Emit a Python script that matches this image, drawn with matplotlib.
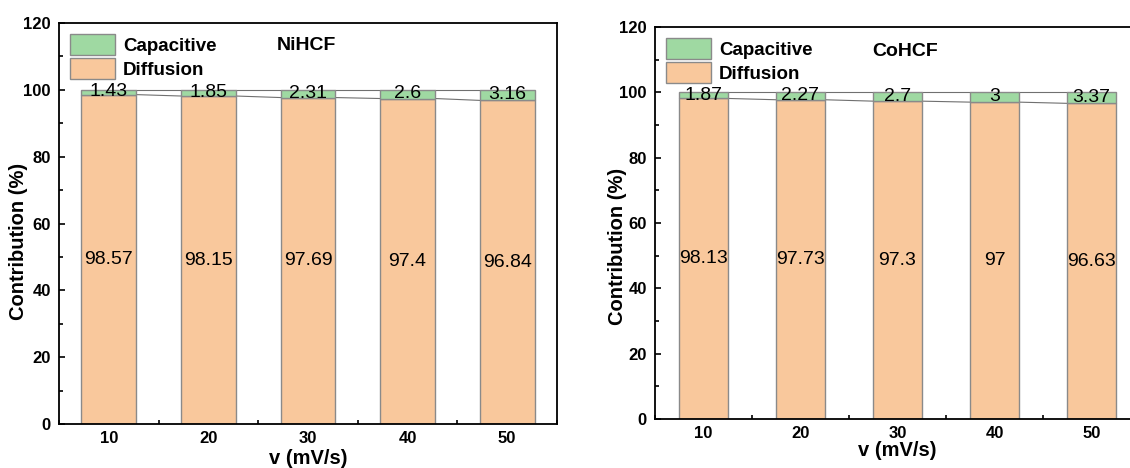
import matplotlib
matplotlib.use("Agg")
import matplotlib.pyplot as plt
from matplotlib.ticker import MultipleLocator
from matplotlib.patches import Patch

plt.rcParams['font.family'] = ['Liberation Sans', 'DejaVu Sans']

scan_rates = [10, 20, 30, 40, 50]
ni_capacitive = [1.43, 1.85, 2.31, 2.6, 3.16]
ni_diffusion = [98.57, 98.15, 97.69, 97.4, 96.84]
co_capacitive = [1.87, 2.27, 2.7, 3, 3.37]
co_diffusion = [98.13, 97.73, 97.3, 97, 96.63]

ni_cap_labels = ["1.43", "1.85", "2.31", "2.6", "3.16"]
ni_dif_labels = ["98.57", "98.15", "97.69", "97.4", "96.84"]
co_cap_labels = ["1.87", "2.27", "2.7", "3", "3.37"]
co_dif_labels = ["98.13", "97.73", "97.3", "97", "96.63"]

green = "#9fd9a2"
orange = "#f9c89c"
edge = "#8a8a8a"

W, H = 1130, 468
fig = plt.figure(figsize=(W / 100, H / 100), dpi=100)

def px_axes(x0, x1, ytop, ybot):
    return fig.add_axes([x0 / W, 1 - ybot / H, (x1 - x0) / W, (ybot - ytop) / H])

def draw(ax, cap, dif, cap_lbl, dif_lbl, title, width, tx, ty, ylab_xy, xlab_pad):
    ax.bar(scan_rates, dif, width=width, color=orange, edgecolor=edge, linewidth=1.0, zorder=2)
    ax.bar(scan_rates, cap, bottom=dif, width=width, color=green, edgecolor=edge, linewidth=1.0, zorder=2)
    # connecting lines between columns
    for i in range(len(scan_rates) - 1):
        xa = scan_rates[i] + width / 2
        xb = scan_rates[i + 1] - width / 2
        ax.plot([xa, xb], [dif[i], dif[i + 1]], color="#707070", lw=0.8, zorder=1)
        ax.plot([xa, xb], [dif[i] + cap[i], dif[i + 1] + cap[i + 1]], color="#707070", lw=0.8, zorder=1)
    for x, d, c, cl, dl in zip(scan_rates, dif, cap, cap_lbl, dif_lbl):
        ax.text(x, d + c / 2 + 0.1, cl, ha="center", va="center", fontsize=14, zorder=3)
        ax.text(x, d / 2, dl, ha="center", va="center", fontsize=14, zorder=3)
    ax.set_xlim(5, 55)
    ax.set_ylim(0, 120)
    ax.xaxis.set_major_locator(MultipleLocator(10))
    ax.xaxis.set_minor_locator(MultipleLocator(5))
    ax.yaxis.set_major_locator(MultipleLocator(20))
    ax.yaxis.set_minor_locator(MultipleLocator(10))
    ax.tick_params(which="both", direction="in", top=False, right=False, width=1.2)
    ax.tick_params(which="major", length=4, labelsize=12)
    ax.tick_params(axis="x", which="major", pad=5)
    ax.tick_params(axis="y", which="major", pad=6)
    ax.tick_params(which="minor", length=3)
    for lbl in ax.get_xticklabels() + ax.get_yticklabels():
        lbl.set_fontweight("bold")
    for s in ax.spines.values():
        s.set_linewidth(1.3)
    ax.set_xlabel("v (mV/s)", fontsize=14.5, fontweight="bold", labelpad=xlab_pad)
    ax.set_ylabel("Contribution (%)", fontsize=14.5, fontweight="bold")
    ax.yaxis.set_label_coords(*ylab_xy)
    ax.text(tx, ty, title, ha="center", va="center", fontsize=14, fontweight="bold")
    handles = [Patch(facecolor=green, edgecolor=edge, label="Capacitive"),
               Patch(facecolor=orange, edgecolor=edge, label="Diffusion")]
    leg = ax.legend(handles=handles, loc="upper left", frameon=False, fontsize=13.5,
                    handlelength=2.4, handleheight=1.35, handletextpad=0.4,
                    labelspacing=0.15, borderaxespad=0.3, borderpad=0.3,
                    bbox_to_anchor=(0.0, 1.0))
    for t in leg.get_texts():
        t.set_fontweight("bold")

ax1 = px_axes(59, 557, 23, 424)
draw(ax1, ni_capacitive, ni_diffusion, ni_cap_labels, ni_dif_labels, "NiHCF", 5.5, 29.8, 113.2,
     (-0.062, 0.455), 2)

ax2 = px_axes(655, 1140, 27, 419)
draw(ax2, co_capacitive, co_diffusion, co_cap_labels, co_dif_labels, "CoHCF", 5.0, 30.8, 112.6,
     (-0.057, 0.44), 0)

fig.savefig("out.png", dpi=100)
